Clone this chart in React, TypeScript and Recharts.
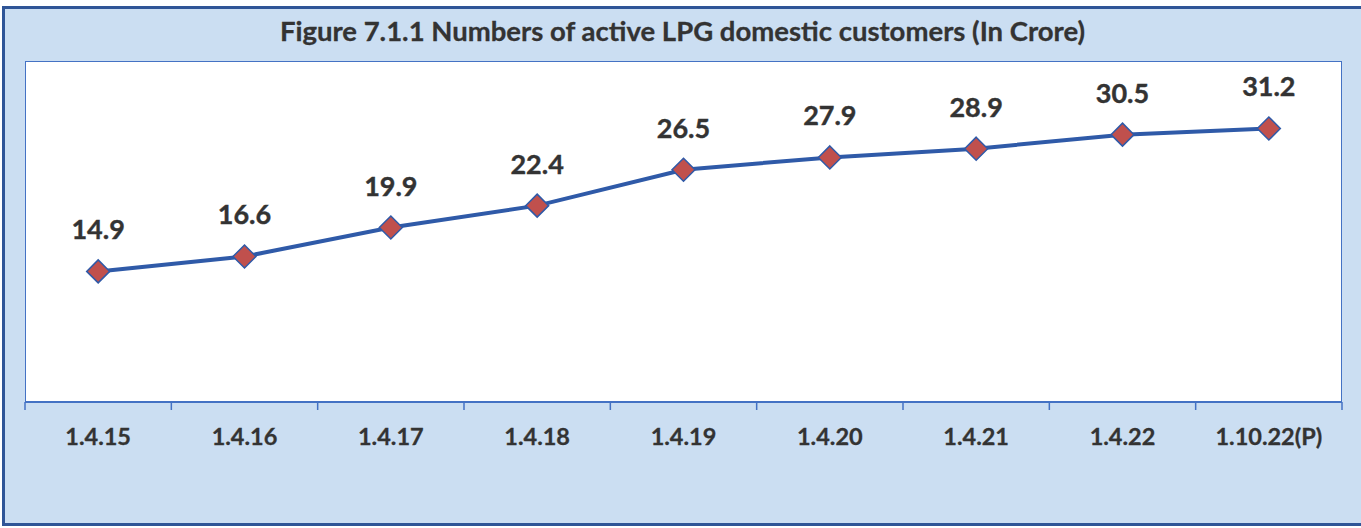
import { LabelList, Line, LineChart, XAxis, YAxis } from 'recharts';

const dates = ['1.4.15', '1.4.16', '1.4.17', '1.4.18', '1.4.19', '1.4.20', '1.4.21', '1.4.22', '1.10.22(P)'];
const customers = [14.9, 16.6, 19.9, 22.4, 26.5, 27.9, 28.9, 30.5, 31.2];

const data = dates.map((date, i) => ({ date, customers: customers[i] }));

const W = 1361;
const H = 528;
const PLOT_LEFT = 25;
const PLOT_RIGHT = 1342;
const PLOT_TOP = 61;
const PLOT_BOTTOM = 402;
const AXIS_H = 40;
const BAND = (PLOT_RIGHT - PLOT_LEFT) / dates.length;

const FONT = 'Lato, "Open Sans", sans-serif';
const TEXT = '#333333';
const BLUE = '#2f5aa8';

function Diamond(props: any) {
  const { cx, cy, index } = props;
  if (cx == null || cy == null) return null;
  const r = 11.5;
  return (
    <polygon
      key={`d-${index}`}
      points={`${cx},${cy - r} ${cx + r},${cy} ${cx},${cy + r} ${cx - r},${cy}`}
      fill="#c0504d"
      stroke={BLUE}
      strokeWidth={1.5}
    />
  );
}

function DateTick(props: any) {
  const { x, y, payload, index } = props;
  const left = x - BAND / 2;
  return (
    <g>
      <line x1={left} y1={y - 8} x2={left} y2={y} stroke="#4472c4" strokeWidth={1.5} />
      {index === dates.length - 1 && (
        <line x1={x + BAND / 2} y1={y - 8} x2={x + BAND / 2} y2={y} stroke="#4472c4" strokeWidth={1.5} />
      )}
      <text
        x={x}
        y={y + 35}
        textAnchor="middle"
        fill={TEXT}
        fontSize={23.5}
        fontWeight={700}
        fontFamily={FONT}
        stroke={TEXT}
        strokeWidth={0.3}
      >
        {payload.value}
      </text>
    </g>
  );
}

export default function App() {
  return (
    <div style={{ position: 'absolute', left: 0, top: 0, width: W, height: H, overflow: 'hidden', background: '#ffffff' }}>
      <div
        style={{
          position: 'absolute',
          left: 2,
          top: 6,
          width: W,
          height: 520,
          boxSizing: 'border-box',
          background: '#cbdef2',
          borderTop: '3px solid #2f5597',
          borderLeft: '3px solid #2f5597',
          borderBottom: '3px solid #2f5597',
        }}
      />
      <div
        style={{
          position: 'absolute',
          left: 0,
          top: 18,
          width: 1365,
          textAlign: 'center',
          fontFamily: FONT,
          fontWeight: 700,
          fontSize: 27.5,
          lineHeight: '26px',
          color: TEXT,
          WebkitTextStroke: '0.3px #333333',
        }}
      >
        Figure 7.1.1 Numbers of active LPG domestic customers (In Crore)
      </div>
      <div
        style={{
          position: 'absolute',
          left: PLOT_LEFT,
          top: PLOT_TOP,
          width: PLOT_RIGHT - PLOT_LEFT,
          height: PLOT_BOTTOM - PLOT_TOP,
          boxSizing: 'border-box',
          background: '#ffffff',
          borderTop: '1.5px solid #4472c4',
          borderLeft: '1.5px solid #4472c4',
          borderRight: '1.5px solid #4472c4',
        }}
      />
      <div style={{ position: 'absolute', left: 0, top: 0 }}>
        <LineChart
          width={W}
          height={H}
          data={data}
          margin={{ top: PLOT_TOP, right: W - PLOT_RIGHT, bottom: H - PLOT_BOTTOM - AXIS_H, left: PLOT_LEFT }}
        >
          <XAxis
            dataKey="date"
            height={AXIS_H}
            padding={{ left: BAND / 2, right: BAND / 2 }}
            axisLine={{ stroke: '#4472c4', strokeWidth: 2 }}
            tickLine={false}
            tickSize={8}
            tickMargin={0}
            interval={0}
            tick={<DateTick />}
          />
          <YAxis hide domain={[0, 38.9]} />
          <Line
            type="linear"
            dataKey="customers"
            stroke={BLUE}
            strokeWidth={4}
            dot={Diamond}
            activeDot={false}
            isAnimationActive={false}
          >
            <LabelList
              dataKey="customers"
              position="top"
              offset={32}
              fill={TEXT}
              stroke={TEXT}
              strokeWidth={0.4}
              fontSize={27}
              fontWeight={700}
              fontFamily={FONT}
            />
          </Line>
        </LineChart>
      </div>
    </div>
  );
}
